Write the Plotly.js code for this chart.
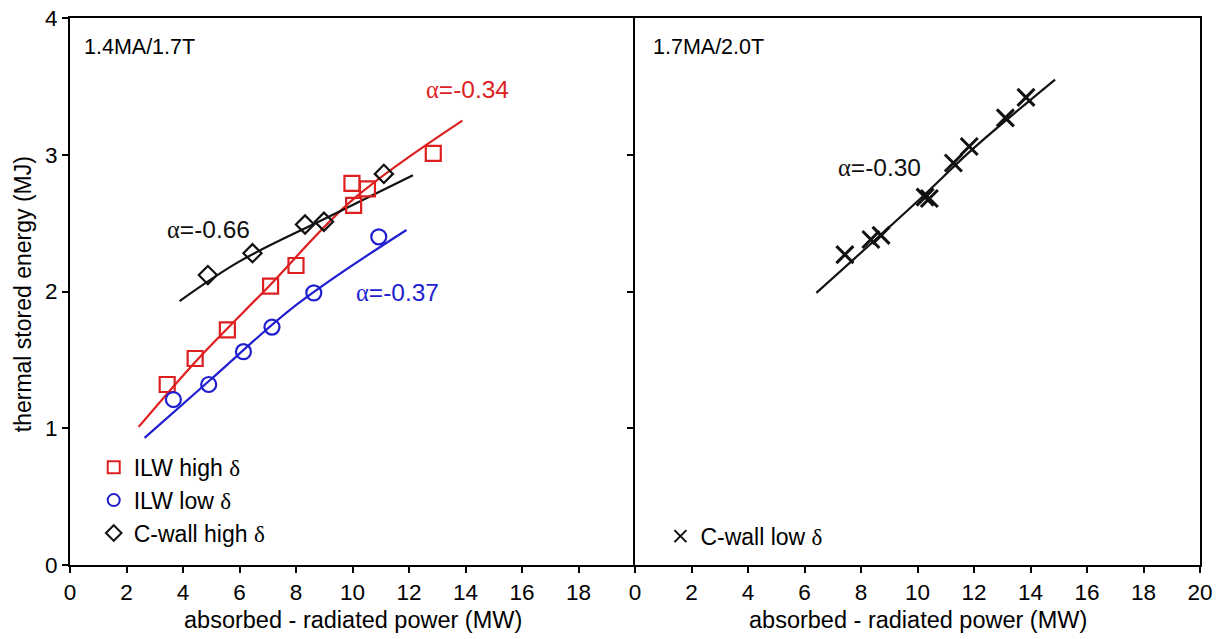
<!DOCTYPE html>
<html>
<head>
<meta charset="utf-8">
<script src="https://cdn.plot.ly/plotly-3.0.1.min.js"></script>
<style>html,body{margin:0;padding:0;background:#fff;}#chart{width:1225px;height:639px;}</style>
</head>
<body>
<div id="chart"></div>
<script>
// ILW high delta (1.4MA/1.7T)
const ilwHighX = [3.44, 4.43, 5.57, 7.10, 8.00, 9.98, 10.04, 10.53, 12.86];
const ilwHighY = [1.32, 1.51, 1.72, 2.04, 2.19, 2.79, 2.63, 2.75, 3.01];
// ILW low delta
const ilwLowX = [3.66, 4.91, 6.14, 7.15, 8.63, 10.93];
const ilwLowY = [1.21, 1.32, 1.56, 1.74, 1.99, 2.40];
// C-wall high delta
const cHighX = [4.88, 6.46, 8.32, 8.99, 11.11];
const cHighY = [2.12, 2.28, 2.49, 2.51, 2.86];
// C-wall low delta (1.7MA/2.0T)
const cLowX = [7.43, 8.35, 8.71, 10.27, 10.42, 11.27, 11.83, 13.11, 13.84];
const cLowY = [2.27, 2.38, 2.41, 2.69, 2.68, 2.94, 3.06, 3.27, 3.42];

// fit curves
const fitHighX = [2.43, 4.5, 7.0, 10.0, 13.89];
const fitHighY = [1.01, 1.50, 2.03, 2.67, 3.25];
const fitLowX = [2.64, 5.0, 8.0, 11.91];
const fitLowY = [0.93, 1.36, 1.90, 2.45];
const fitCHighX = [3.88, 6.0, 9.0, 12.14];
const fitCHighY = [1.93, 2.22, 2.53, 2.85];
const fitCLowX = [6.42, 10.0, 12.0, 14.87];
const fitCLowY = [1.99, 2.66, 3.05, 3.55];

const leftTicks = [0, 2, 4, 6, 8, 10, 12, 14, 16, 18];
const rightTicks = [0, 2, 4, 6, 8, 10, 12, 14, 16, 18, 20];
const yTicks = [0, 1, 2, 3, 4];

const RED = '#dd1f1f', BLUE = '#1f1fd0', BLACK = '#111111';
const FONT = 'Liberation Sans, Arial, sans-serif';
const G = s => '<span style="font-family:Liberation Serif, Times New Roman, serif">' + s + '</span>';

const traces = [
  {x: fitHighX, y: fitHighY, mode: 'lines', line: {color: RED, width: 2.2, shape: 'spline'}, showlegend: false, xaxis: 'x', yaxis: 'y', hoverinfo: 'skip'},
  {x: fitLowX, y: fitLowY, mode: 'lines', line: {color: BLUE, width: 2.2, shape: 'spline'}, showlegend: false, xaxis: 'x', yaxis: 'y', hoverinfo: 'skip'},
  {x: fitCHighX, y: fitCHighY, mode: 'lines', line: {color: BLACK, width: 2.2, shape: 'spline'}, showlegend: false, xaxis: 'x', yaxis: 'y', hoverinfo: 'skip'},
  {x: fitCLowX, y: fitCLowY, mode: 'lines', line: {color: BLACK, width: 2.2, shape: 'spline'}, showlegend: false, xaxis: 'x2', yaxis: 'y2', hoverinfo: 'skip'},
  {x: ilwHighX, y: ilwHighY, mode: 'markers', name: 'ILW high ' + G('δ'), legendgroup: 'a',
   marker: {symbol: 'square-open', size: 15, color: RED, line: {width: 2.2, color: RED}}, xaxis: 'x', yaxis: 'y', legend: 'legend'},
  {x: ilwLowX, y: ilwLowY, mode: 'markers', name: 'ILW low ' + G('δ'), legendgroup: 'b',
   marker: {symbol: 'circle-open', size: 15, color: BLUE, line: {width: 2.2, color: BLUE}}, xaxis: 'x', yaxis: 'y', legend: 'legend'},
  {x: cHighX, y: cHighY, mode: 'markers', name: 'C-wall high ' + G('δ'), legendgroup: 'c',
   marker: {symbol: 'diamond-open', size: 14, color: BLACK, line: {width: 2.2, color: BLACK}}, xaxis: 'x', yaxis: 'y', legend: 'legend'},
  {x: cLowX, y: cLowY, mode: 'markers', name: 'C-wall low ' + G('δ'),
   marker: {symbol: 'x-thin', size: 17, color: BLACK, line: {width: 3, color: BLACK}}, xaxis: 'x2', yaxis: 'y2', legend: 'legend2'}
];

const axisCommon = {
  showline: true, linewidth: 2, linecolor: '#000', mirror: true,
  ticks: 'outside', ticklen: 6, tickwidth: 2, tickcolor: '#000',
  showgrid: false, zeroline: false,
  tickfont: {family: FONT, size: 22.5, color: '#000'}
};

const layout = {
  width: 1225, height: 639,
  margin: {l: 70, r: 25, t: 18, b: 74},
  paper_bgcolor: '#fff', plot_bgcolor: '#fff',
  font: {family: FONT, size: 22, color: '#000'},
  xaxis: Object.assign({}, axisCommon, {domain: [0, 0.5], range: [0, 20], tickvals: leftTicks, ticktext: leftTicks.map(String), anchor: 'y'}),
  xaxis2: Object.assign({}, axisCommon, {domain: [0.5, 1], range: [0, 20], tickvals: rightTicks, ticktext: rightTicks.map(String), anchor: 'y2'}),
  yaxis: Object.assign({}, axisCommon, {mirror: false, range: [0, 4], tickvals: yTicks, ticktext: yTicks.map(String), anchor: 'x'}),
  yaxis2: Object.assign({}, axisCommon, {range: [0, 4], tickvals: [1, 2, 3], showticklabels: false, anchor: 'x2'}),
  legend: {x: 0.021, y: 0.218, xanchor: 'left', yanchor: 'top', bgcolor: 'rgba(0,0,0,0)',
           font: {family: FONT, size: 23, color: '#000'}, itemsizing: 'constant', traceorder: 'grouped', tracegroupgap: 0},
  legend2: {x: 0.5225, y: 0.092, xanchor: 'left', yanchor: 'top', bgcolor: 'rgba(0,0,0,0)',
           font: {family: FONT, size: 23, color: '#000'}, itemsizing: 'constant'},
  annotations: [
    {xref: 'x', yref: 'y', x: 0.42, y: 3.79, text: '1.4MA/1.7T', showarrow: false, xanchor: 'left', yanchor: 'middle', font: {size: 21.5}},
    {xref: 'x2', yref: 'y2', x: 0.57, y: 3.79, text: '1.7MA/2.0T', showarrow: false, xanchor: 'left', yanchor: 'middle', font: {size: 21.5}},
    {xref: 'x', yref: 'y', x: 14.06, y: 3.48, text: G('α') + '=-0.34', showarrow: false, xanchor: 'center', yanchor: 'middle', font: {size: 24.5, color: RED}},
    {xref: 'x', yref: 'y', x: 4.91, y: 2.45, text: G('α') + '=-0.66', showarrow: false, xanchor: 'center', yanchor: 'middle', font: {size: 24.5, color: BLACK}},
    {xref: 'x', yref: 'y', x: 11.59, y: 1.99, text: G('α') + '=-0.37', showarrow: false, xanchor: 'center', yanchor: 'middle', font: {size: 24.5, color: BLUE}},
    {xref: 'x2', yref: 'y2', x: 8.67, y: 2.91, text: G('α') + '=-0.30', showarrow: false, xanchor: 'center', yanchor: 'middle', font: {size: 24.5, color: BLACK}},
    {xref: 'paper', yref: 'paper', x: -0.0416, y: 0.495, text: 'thermal stored energy (MJ)', textangle: -90, showarrow: false, xanchor: 'center', yanchor: 'middle', font: {size: 23}},
    {xref: 'paper', yref: 'paper', x: 0.25, y: -0.1, text: 'absorbed - radiated power (MW)', showarrow: false, xanchor: 'center', yanchor: 'middle', font: {size: 23.5}},
    {xref: 'paper', yref: 'paper', x: 0.75, y: -0.1, text: 'absorbed - radiated power (MW)', showarrow: false, xanchor: 'center', yanchor: 'middle', font: {size: 23.5}}
  ]
};

Plotly.newPlot('chart', traces, layout, {displayModeBar: false, staticPlot: true});
</script>
</body>
</html>
